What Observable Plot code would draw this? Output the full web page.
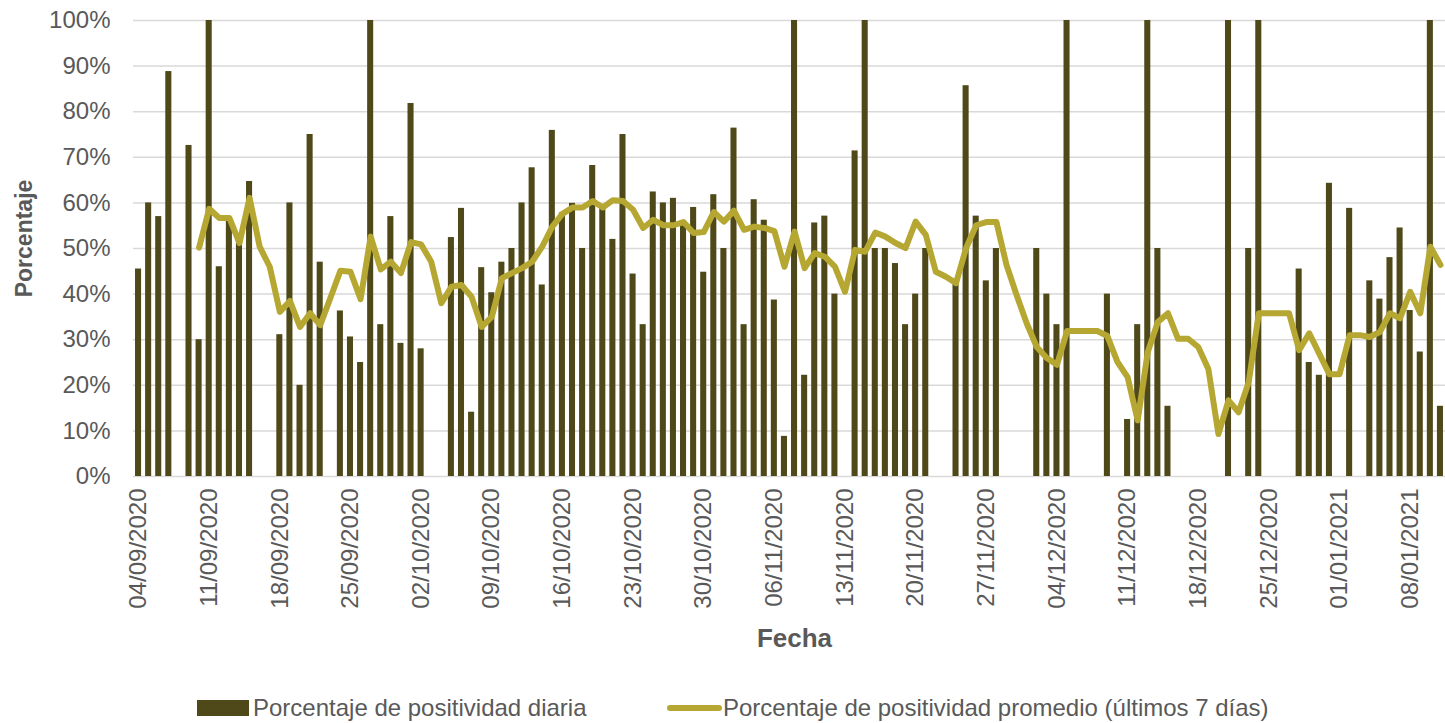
<!DOCTYPE html>
<html>
<head>
<meta charset="utf-8">
<script src="https://cdn.jsdelivr.net/npm/d3@7"></script>
<script src="https://cdn.jsdelivr.net/npm/@observablehq/plot@0.6"></script>
<style>
  html, body { margin: 0; padding: 0; background: #fff; }
  #wrap { width: 1445px; font-family: "Liberation Sans", Arial, sans-serif; color: #595959; }
  #legend { position: relative; width: 1445px; height: 33px; }
  #legend .sw-bar { position: absolute; left: 197px; top: 10px; width: 52px; height: 16px; background: #4f4919; }
  #legend .sw-line { position: absolute; left: 667px; top: 15px; width: 55px; height: 6px; border-radius: 3px; background: #b5a732; }
  #legend .lbl { position: absolute; top: 0; line-height: 36px; font-size: 24px; white-space: nowrap; }
</style>
</head>
<body>
<div id="wrap">
  <div id="chart"></div>
  <div id="legend">
    <div class="sw-bar"></div><div class="lbl" style="left:253px">Porcentaje de positividad diaria</div>
    <div class="sw-line"></div><div class="lbl" style="left:723px">Porcentaje de positividad promedio (últimos 7 días)</div>
  </div>
</div>
<script>
// Category axis: one category per day
const startDate = new Date(Date.UTC(2020, 8, 4));
const endDate = new Date(Date.UTC(2021, 0, 12)); // exclusive
const fmt = d3.utcFormat("%d/%m/%Y");
const dates = d3.utcDays(startDate, endDate).map(fmt);

// Weekly tick labels
const xTicks = ["04/09/2020","11/09/2020","18/09/2020","25/09/2020","02/10/2020","09/10/2020",
  "16/10/2020","23/10/2020","30/10/2020","06/11/2020","13/11/2020","20/11/2020","27/11/2020",
  "04/12/2020","11/12/2020","18/12/2020","25/12/2020","01/01/2021","08/01/2021"];
const yTicks = [0, 10, 20, 30, 40, 50, 60, 70, 80, 90, 100];

// Daily positivity (%), null = no bar
const dailyPositivity = [
  45.5, 60, 57, 88.8, null, 72.6, 30, 100, 46, 56.5,
  52, 64.7, null, null, 31.1, 60, 20, 75, 47, null,
  36.3, 30.6, 25, 100, 33.3, 57, 29.2, 81.8, 28, null,
  null, 52.4, 58.8, 14.1, 45.8, 40.3, 47, 50, 60, 67.7,
  42, 75.9, 57.8, 59.9, 50, 68.2, 58.9, 52, 75, 44.4,
  33.3, 62.4, 60, 61, 56, 59, 44.8, 61.8, 50, 76.4,
  33.3, 60.7, 56.2, 38.7, 8.8, 100, 22.2, 55.6, 57.1, 40,
  null, 71.4, 100, 50, 50, 46.7, 33.3, 40, 50, null,
  null, 42.5, 85.7, 57.1, 42.9, 50, null, null, null, 50,
  40, 33.3, 100, null, null, null, 40, null, 12.5, 33.3,
  100, 50, 15.4, null, null, null, null, null, 100, null,
  50, 100, null, null, null, 45.5, 25, 22.2, 64.3, null,
  58.8, null, 42.9, 38.9, 48, 54.5, 36.4, 27.3, 100, 15.4
];

// 7-day average positivity (%)
const avgPositivity = [
  null, null, null, null, null, null, 50.2, 58.7, 56.7, 56.7,
  51.2, 61.1, 50.4, 46.0, 36.1, 38.5, 32.8, 35.8, 33.2, 39.1,
  45.1, 44.9, 38.9, 52.6, 45.4, 47.1, 44.6, 51.4, 50.9, 47.1,
  38.0, 41.6, 42.0, 39.4, 32.8, 35.0, 43.5, 44.6, 45.7, 47.1,
  50.4, 54.8, 57.6, 59.0, 59.0, 60.4, 59.0, 60.6, 60.4, 58.5,
  54.5, 56.3, 55.1, 55.1, 55.8, 53.4, 53.6, 58.0, 55.9, 58.3,
  54.1, 54.8, 54.5, 53.8, 46.0, 53.7, 45.7, 49.0, 48.2, 46.0,
  40.5, 49.7, 49.3, 53.5, 52.6, 51.2, 50.1, 55.9, 53.0, 44.9,
  43.8, 42.4, 50.1, 55.1, 55.8, 55.8, 46.4, 39.8, 33.6, 28.4,
  26.0, 24.5, 31.9, 31.9, 31.9, 31.9, 30.8, 25.1, 21.8, 12.3,
  27.3, 33.9, 35.8, 30.2, 30.2, 28.4, 23.6, 9.3, 16.7, 14.1,
  20.7, 35.8, 35.8, 35.8, 35.8, 27.7, 31.4, 26.9, 22.4, 22.4,
  31.0, 31.0, 30.6, 31.7, 35.8, 34.7, 40.5, 35.8, 50.4, 46.4
];

const table = dates.map((d, i) => ({date: d, daily: dailyPositivity[i], avg: avgPositivity[i]}));

const chart = Plot.plot({
  width: 1445,
  height: 690,
  marginLeft: 133,
  marginRight: 0,
  marginTop: 20,
  marginBottom: 214,
  style: {fontFamily: "'Liberation Sans', Arial, sans-serif", fontSize: "24px", color: "#595959", background: "#fff"},
  x: {type: "band", domain: dates, paddingInner: 0.4, paddingOuter: 0.2, round: false,
      ticks: xTicks, tickRotate: -90, tickSize: 0, tickPadding: 12, label: null},
  y: {domain: [0, 100], ticks: yTicks, tickFormat: d => d + "%", tickSize: 0, tickPadding: 23, label: null},
  marks: [
    Plot.ruleY(yTicks, {stroke: "#d9d9d9", strokeWidth: 1.5}),
    Plot.barY(table.filter(d => d.daily != null), {x: "date", y: "daily", fill: "#4f4919"}),
    Plot.line(table.filter(d => d.avg != null), {x: "date", y: "avg", stroke: "#b5a732", strokeWidth: 6,
      strokeLinejoin: "round", strokeLinecap: "round"}),
    Plot.text(["Porcentaje"], {frameAnchor: "left", textAnchor: "middle", rotate: -90, dx: -109, dy: -10,
      fontWeight: "bold", fontSize: 23, fill: "#595959"}),
    Plot.text(["Fecha"], {frameAnchor: "bottom", dy: 170, dx: 5, fontWeight: "bold", fontSize: 26, fill: "#595959"})
  ]
});
document.getElementById("chart").appendChild(chart);
</script>
</body>
</html>
